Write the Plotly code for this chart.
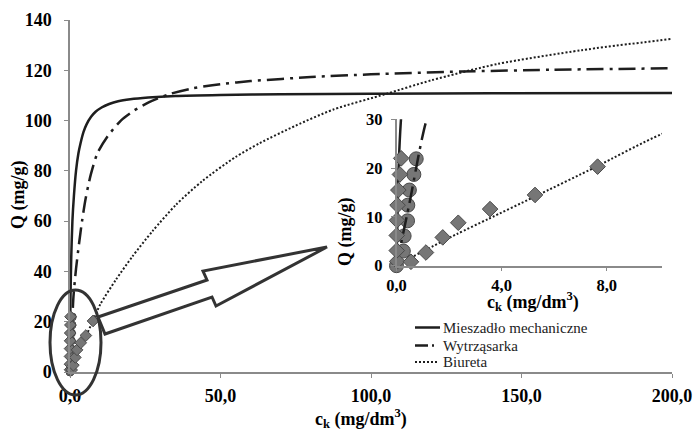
import plotly.graph_objects as go

# ---------------- data ----------------
# fitted curves
mech_curve_c = [0, 0.03, 0.08, 0.17, 0.4, 0.8, 1.3, 2.0, 2.8, 3.5, 4.5, 5.5, 7.0, 8.5, 10.5, 13, 16, 20, 26, 35, 50, 70, 100, 140, 200]
mech_curve_q = [0, 8, 20, 30, 45, 60, 70, 80, 87, 91, 95.5, 98.5, 101.5, 103.5, 105.2, 106.6, 107.7, 108.5, 109.2, 109.8, 110.2, 110.5, 110.7, 110.9, 111.0]

shak_curve_c = [0, 0.5, 1.15, 2, 3, 4, 5.2, 6.9, 9.1, 12.4, 16.9, 21.3, 26.3, 33, 40.7, 50, 60, 80, 100, 130, 160, 200]
shak_curve_q = [0, 13, 30, 41, 51, 60, 69, 78.5, 87, 93.6, 100, 104, 107.3, 110.5, 112.8, 114.5, 115.7, 117.3, 118.4, 119.5, 120.2, 120.8]

biur_curve_c = [0, 0.5, 1.1, 2.3, 3.5, 5.2, 7.6, 10.1, 15.2, 20.7, 27.4, 35.2, 44, 55, 63, 75, 87.5, 105, 120, 142, 170, 200]
biur_curve_q = [0, 1.5, 3.2, 6.5, 9.6, 14, 20.3, 27, 36.6, 45.9, 56, 66.5, 76, 85.5, 91, 98, 104.4, 110.6, 116, 122.5, 128, 132.5]

# measured points
mech_pts_c = [0.03, 0.01, 0.01, 0.02, 0.04, 0.07, 0.13, 0.18]
mech_pts_q = [0.9, 3.1, 6.2, 9.3, 12.4, 15.5, 18.7, 22.0]

shak_pts_c = [0.0, 0.26, 0.29, 0.42, 0.43, 0.49, 0.66, 0.75]
shak_pts_q = [0.0, 3.0, 6.1, 9.2, 12.4, 15.5, 18.7, 21.9]

biur_pts_c = [0.55, 1.12, 1.76, 2.35, 3.56, 5.27, 7.65]
biur_pts_q = [0.8, 2.7, 5.8, 8.8, 11.6, 14.5, 20.3]

series_names = ["Mieszadło mechaniczne", "Wytrząsarka", "Biureta"]
main_x_ticks = [0, 50, 100, 150, 200]
main_y_ticks = [0, 20, 40, 60, 80, 100, 120, 140]
inset_x_ticks = [0, 4, 8]
inset_y_ticks = [0, 10, 20, 30]

# ---------------- helpers ----------------
W, H = 695, 435
def X(px):
    return px / W
def Y(py):
    return 1 - py / H

LINE_COL = "#1e1e1e"
MARK_FILL = "#767676"
MARK_EDGE = "#4a4a4a"
AXIS_COL = "#8a8a8a"
SERIF = "'Liberation Serif', 'Times New Roman', 'DejaVu Serif', serif"

fig = go.Figure()

line_styles = [
    dict(color=LINE_COL, width=2.5, dash="solid"),
    dict(color=LINE_COL, width=2.5, dash="17px,6px,3px,6px"),
    dict(color=LINE_COL, width=2, dash="2px,2px"),
]
curves = [(mech_curve_c, mech_curve_q), (shak_curve_c, shak_curve_q), (biur_curve_c, biur_curve_q)]

for xa, ya, msize_c, msize_d in [("x", "y", 8, 9), ("x2", "y2", 14, 12)]:
    # circles (Wytrząsarka points)
    fig.add_trace(go.Scatter(x=shak_pts_c, y=shak_pts_q, mode="markers", xaxis=xa, yaxis=ya,
                             marker=dict(symbol="circle", size=msize_c, color=MARK_FILL,
                                         line=dict(color=MARK_EDGE, width=1)),
                             cliponaxis=False, showlegend=False, hoverinfo="skip"))
    for (cc, qq), st, nm in zip(curves, line_styles, series_names):
        fig.add_trace(go.Scatter(x=cc, y=qq, mode="lines", xaxis=xa, yaxis=ya, name=nm,
                                 line=dict(shape="spline", smoothing=0.7, **st), showlegend=False))
    fig.add_trace(go.Scatter(x=mech_pts_c, y=mech_pts_q, mode="markers", xaxis=xa, yaxis=ya,
                             marker=dict(symbol="diamond", size=msize_d, color=MARK_FILL,
                                         line=dict(color=MARK_EDGE, width=1)),
                             cliponaxis=False, showlegend=False, hoverinfo="skip"))
    fig.add_trace(go.Scatter(x=biur_pts_c, y=biur_pts_q, mode="markers", xaxis=xa, yaxis=ya,
                             marker=dict(symbol="diamond", size=msize_d, color=MARK_FILL,
                                         line=dict(color=MARK_EDGE, width=1)),
                             cliponaxis=False, showlegend=False, hoverinfo="skip"))

tick_font_main = dict(family=SERIF, size=18, color="black", weight="bold")
tick_font_inset = dict(family=SERIF, size=16.5, color="black", weight="bold")
axis_common = dict(showline=True, linecolor=AXIS_COL, linewidth=1.5, ticks="outside",
                   tickcolor=AXIS_COL, ticklen=4, tickwidth=1.2, showgrid=False, zeroline=False,
                   automargin=False)

fig.update_layout(
    template="none",
    width=W, height=H, margin=dict(l=0, r=0, t=0, b=0, autoexpand=False),
    paper_bgcolor="white", plot_bgcolor="rgba(0,0,0,0)",
    separators=", ",
    showlegend=False,
    xaxis=dict(domain=[X(70), X(672)], range=[0, 200], tickvals=main_x_ticks, tickformat=".1f",
               tickfont=tick_font_main, anchor="y", ticklabelstandoff=3, **axis_common),
    yaxis=dict(domain=[Y(372), Y(20)], range=[0, 140], tickvals=main_y_ticks,
               tickfont=tick_font_main, anchor="x", ticklabelstandoff=9, **axis_common),
    xaxis2=dict(domain=[X(396.5), X(662)], range=[0, 10.1], tickvals=inset_x_ticks, tickformat=".1f",
                tickfont=tick_font_inset, anchor="y2", ticklabelstandoff=0, **axis_common),
    yaxis2=dict(domain=[Y(265.7), Y(119.3)], range=[0, 30], tickvals=inset_y_ticks,
                tickfont=tick_font_inset, anchor="x2", ticklabelstandoff=5, **axis_common),
)

title_font = dict(family=SERIF, size=18, color="black", weight="bold")
ann = [
    dict(text="Q (mg/g)", x=X(18), y=Y(195), textangle=-90),
    dict(text="c<sub>k</sub> (mg/dm<sup>3</sup>)", x=X(361), y=Y(418)),
    dict(text="Q (mg/g)", x=X(345), y=Y(232), textangle=-90),
    dict(text="c<sub>k</sub> (mg/dm<sup>3</sup>)", x=X(533), y=Y(301)),
]
for a in ann:
    fig.add_annotation(xref="paper", yref="paper", showarrow=False, font=title_font,
                       xanchor="center", yanchor="middle", **a)

# legend (drawn manually)
leg_rows = [327.5, 345.5, 362]
leg_dash = ["solid", "13px,4px,2px,20px", "2px,2px"]
leg_x1 = [440, 435, 438]
leg_w = [2.5, 2.5, 2]
for nm, yy, dsh, lw, x1 in zip(series_names, leg_rows, leg_dash, leg_w, leg_x1):
    fig.add_shape(type="line", xref="paper", yref="paper", x0=X(415), x1=X(x1),
                  y0=Y(yy), y1=Y(yy), line=dict(color=LINE_COL, width=lw, dash=dsh))
    fig.add_annotation(xref="paper", yref="paper", x=X(441), y=Y(yy), text=nm, showarrow=False,
                       xanchor="left", yanchor="middle",
                       font=dict(family=SERIF, size=15, color="#222"))

# ellipse around origin
fig.add_shape(type="circle", xref="paper", yref="paper", x0=X(50), x1=X(101), y0=Y(395), y1=Y(290),
              line=dict(color="#333", width=3), fillcolor="rgba(0,0,0,0)")

# block arrow pointing to the inset
arrow_px = [(98, 317), (207, 280), (203, 271), (327, 247), (216, 306), (212, 297), (105, 334)]
path = "M " + " L ".join(f"{X(a):.5f},{Y(b):.5f}" for a, b in arrow_px) + " Z"
fig.add_shape(type="path", xref="paper", yref="paper", path=path,
              line=dict(color="#333", width=3), fillcolor="white")

fig.write_html("out.html")
